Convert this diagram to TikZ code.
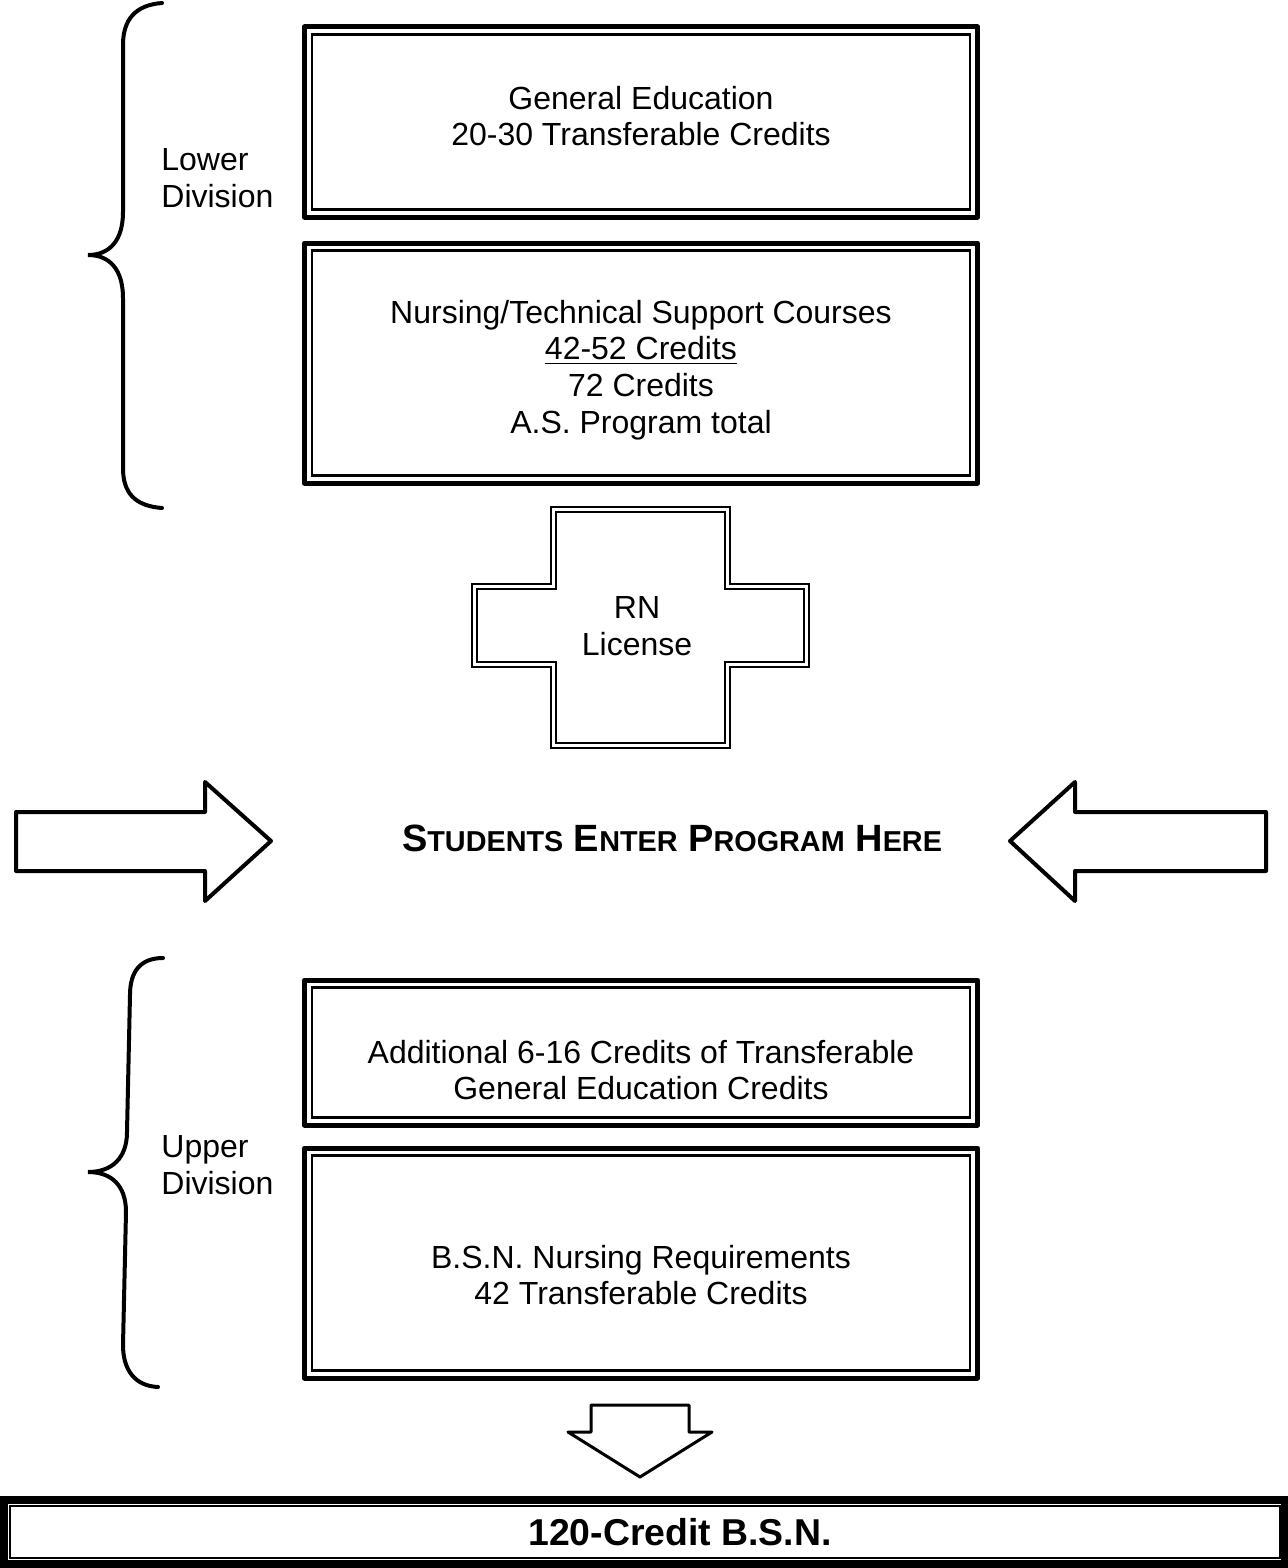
\documentclass[tikz,border=0pt]{standalone}
\usepackage{fontspec}
\setmainfont{Liberation Sans}
\usepackage{tikz}

\newcommand{\lowcaps}[1]{{\fontsize{14.4}{16}\selectfont #1}}

\tikzset{
  boxouter/.style={line width=2.5pt, line join=round},
  boxinner/.style={line width=1.2pt},
  crossline/.style={line width=1.1pt},
  blockarrow/.style={line width=2pt, line join=round},
  bracket/.style={line width=2pt, line cap=round},
  txt/.style={font=\fontsize{16}{18.4}\selectfont, align=center, inner sep=0pt},
}

\begin{document}
\begin{tikzpicture}[x=0.5pt, y=-0.5pt]
\useasboundingbox (0,0) rectangle (1288,1568);

% framed boxes
\foreach \ya/\yb in {27/217, 243/483, 980/1125, 1148/1378}{
  \draw[boxouter] (304.5,\ya) rectangle (977.5,\yb);
  \draw[boxinner] (312,\ya+7.5) rectangle (970,\yb-7.5);
}
\node[txt] (gened) at (641,116) {General Education\\20-30 Transferable Credits};
\node[txt] (support) at (641,370) {Nursing/Technical Support Courses\\\underline{42-52 Credits}\\72 Credits\\A.S. Program total};
\node[txt] (addgen) at (641,1070) {Additional 6-16 Credits of Transferable\\ General Education Credits};
\node[txt] (bsnreq) at (641,1275) {B.S.N. Nursing Requirements\\ 42 Transferable Credits};

% braces
\draw[bracket] (162,3) .. controls (135,5) and (123,20) .. (123,45) -- (123,212)
  .. controls (123,240) and (110,255) .. (88,255)
  .. controls (110,255) and (123,270) .. (123,298) -- (123,468)
  .. controls (123,493) and (135,506) .. (162,508);
\node[txt, align=left, anchor=west] (lower) at (161,178) {Lower\\Division};
\draw[bracket] (163,958) .. controls (140,958) and (130,972) .. (130,995) -- (127,1132)
  .. controls (127,1158) and (112,1172) .. (88,1172)
  .. controls (112,1172) and (126,1186) .. (126,1212) -- (123,1345)
  .. controls (123,1370) and (135,1386) .. (158,1387);
\node[txt, align=left, anchor=west] (upper) at (161,1165) {Upper\\Division};

% cross
\draw[crossline] (551,507) -- (730,507) -- (730,584) -- (809,584) -- (809,667) -- (730,667)
  -- (730,748) -- (551,748) -- (551,667) -- (472,667) -- (472,584) -- (551,584) -- cycle;
\draw[crossline] (556,512) -- (725,512) -- (725,589) -- (804,589) -- (804,662) -- (725,662)
  -- (725,743) -- (556,743) -- (556,662) -- (477,662) -- (477,589) -- (556,589) -- cycle;
\node[txt] (rn) at (637,626) {RN\\License};

% entry arrows
\draw[blockarrow] (16,812) -- (205,812) -- (205,782) -- (271,841) -- (205,901) -- (205,871) -- (16,871) -- cycle;
\draw[blockarrow] (1266,812) -- (1075,812) -- (1075,782) -- (1010,841) -- (1075,901) -- (1075,871) -- (1266,871) -- cycle;
\node[txt, font=\fontsize{19}{21}\selectfont\bfseries] (enter) at (672,838)
  {S\lowcaps{TUDENTS} E\lowcaps{NTER} P\lowcaps{ROGRAM} H\lowcaps{ERE}};

% down arrow and total
\draw[blockarrow, line width=1.5pt] (591,1405) -- (689,1405) -- (689,1432) -- (712,1432) -- (640,1477)
  -- (568,1432) -- (591,1432) -- cycle;
\draw[line width=4pt] (3.5,1500) rectangle (1285,1564);
\draw[boxinner] (10,1506) rectangle (1280,1558);
\node[txt, font=\fontsize{18.7}{21}\selectfont\bfseries] (total) at (680,1532) {120-Credit B.S.N.};
\end{tikzpicture}
\end{document}
